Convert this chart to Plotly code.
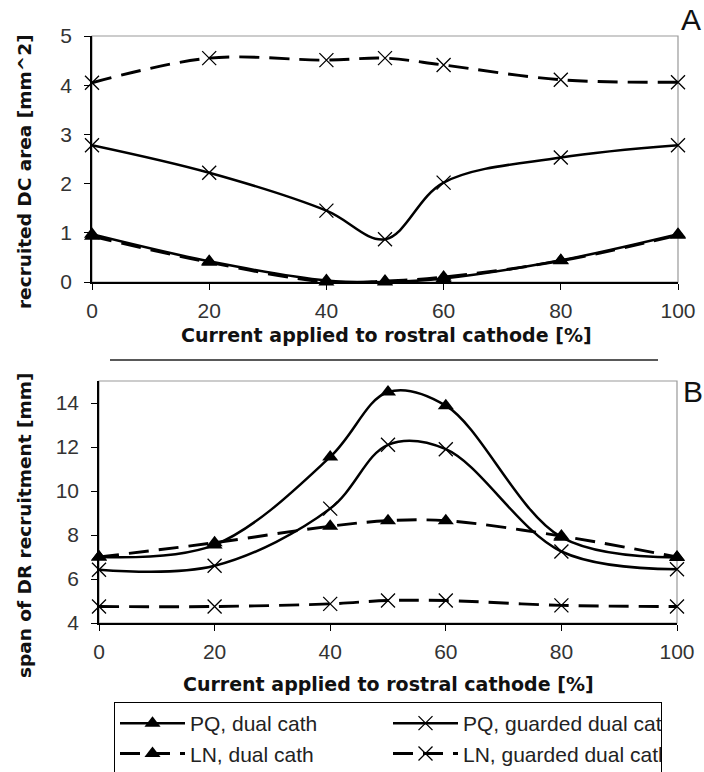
import plotly.graph_objects as go

# ---------------- data ----------------
x_pct = [0, 20, 40, 50, 60, 80, 100]
x_ticks = [0, 20, 40, 60, 80, 100]

# Panel A: recruited DC area [mm^2]
a_pq_dual = [0.97, 0.42, 0.03, 0.00, 0.07, 0.44, 0.97]
a_ln_dual = [0.93, 0.40, 0.00, 0.02, 0.10, 0.43, 0.95]
a_pq_guard = [2.78, 2.22, 1.45, 0.87, 2.02, 2.53, 2.78]
a_ln_guard = [4.05, 4.55, 4.51, 4.55, 4.41, 4.11, 4.06]

# Panel B: span of DR recruitment [mm]
b_pq_dual = [7.00, 7.55, 11.55, 14.50, 13.88, 7.90, 6.98]
b_ln_dual = [7.00, 7.65, 8.40, 8.65, 8.65, 7.95, 7.00]
b_pq_guard = [6.42, 6.60, 9.20, 12.10, 11.90, 7.25, 6.44]
b_ln_guard = [4.75, 4.75, 4.87, 5.02, 5.02, 4.80, 4.75]

names = ["PQ, dual cath", "PQ, guarded dual cath", "LN, dual cath", "LN, guarded dual cath"]
x_title = "Current applied to rostral cathode [%]"
ya_title = "recruited DC area [mm^2]"
yb_title = "span of DR recruitment [mm]"

W, H = 704, 772
TICKFONT = "Liberation Sans, Arial, sans-serif"
BOLDFONT = "DejaVu Sans, Verdana, sans-serif"

def px_x(p):
    return p / W

def px_y(p):
    return 1 - p / H

fig = go.Figure()

DASH = "20px,10px"
styles = [
    dict(dash="solid", symbol="triangle-up", msize=14, mline=0),
    dict(dash="solid", symbol="x-thin", msize=14, mline=1.3),
    dict(dash=DASH, symbol="triangle-up", msize=14, mline=0),
    dict(dash=DASH, symbol="x-thin", msize=14, mline=1.3),
]

for data, axis in [((a_pq_dual, a_pq_guard, a_ln_dual, a_ln_guard), ("x", "y")),
                   ((b_pq_dual, b_pq_guard, b_ln_dual, b_ln_guard), ("x2", "y2"))]:
    for i, (ys, st) in enumerate(zip(data, styles)):
        fig.add_trace(go.Scatter(
            x=x_pct, y=ys, name=names[i], mode="lines+markers",
            xaxis=axis[0], yaxis=axis[1],
            line=dict(color="black", width=2.9 if st["dash"] == DASH else 2.5, dash=st["dash"],
                      shape="spline", smoothing=1.0),
            marker=dict(symbol=st["symbol"], size=st["msize"], color="black",
                        line=dict(color="black", width=st["mline"])),
            cliponaxis=False,
            showlegend=(axis[0] == "x2"),
        ))

axis_common = dict(showgrid=False, zeroline=False, showline=True, linecolor="black", linewidth=1.5,
                   ticks="outside", ticklen=6, tickcolor="black", tickwidth=1.2,
                   tickfont=dict(family=TICKFONT, size=21, color="#333"))

title_font = dict(family=BOLDFONT, size=19, color="#111", weight="bold")
ytitle_font = dict(family=BOLDFONT, size=18.5, color="#111", weight="bold")

fig.update_layout(
    width=W, height=H, margin=dict(l=0, r=0, t=0, b=0, autoexpand=False),
    paper_bgcolor="white", plot_bgcolor="white",
    xaxis=dict(domain=[px_x(92), px_x(678)], anchor="y", range=[0, 100], tickvals=x_ticks,
               ticklabelstandoff=3, **axis_common),
    yaxis=dict(domain=[px_y(282), px_y(36)], anchor="x", range=[0, 5], tickvals=[0, 1, 2, 3, 4, 5],
               ticklabelstandoff=8, **axis_common),
    xaxis2=dict(domain=[px_x(99), px_x(677)], anchor="y2", range=[0, 100], tickvals=x_ticks,
                ticklabelstandoff=3, **axis_common),
    yaxis2=dict(domain=[px_y(623), px_y(381)], anchor="x2", range=[4, 15], tickvals=[4, 6, 8, 10, 12, 14],
                ticklabelstandoff=8, **axis_common),
    legend=dict(orientation="h", x=px_x(114), y=px_y(702), xanchor="left", yanchor="top",
                bgcolor="white", bordercolor="black", borderwidth=1,
                entrywidth=193, entrywidthmode="pixels", itemwidth=65,
                font=dict(family=TICKFONT, size=21, color="#222")),
    shapes=[
        # gray frames of plot areas
        dict(type="rect", xref="x domain", yref="y domain", x0=0, x1=1, y0=0, y1=1,
             line=dict(color="#999", width=1.2), layer="below"),
        dict(type="rect", xref="x2 domain", yref="y2 domain", x0=0, x1=1, y0=0, y1=1,
             line=dict(color="#999", width=1.2), layer="below"),
        # separator line
        dict(type="line", xref="paper", yref="paper", x0=px_x(110), x1=px_x(658),
             y0=px_y(360), y1=px_y(360), line=dict(color="#222", width=1.5)),
    ],
    annotations=[
        dict(text="A", xref="paper", yref="paper", x=px_x(691), y=px_y(20), xanchor="center",
             yanchor="middle", showarrow=False, font=dict(family="Liberation Sans, Arial", size=30, color="#111")),
        dict(text="B", xref="paper", yref="paper", x=px_x(693), y=px_y(391), xanchor="center",
             yanchor="middle", showarrow=False, font=dict(family="Liberation Sans, Arial", size=30, color="#111")),
        dict(text=x_title, xref="paper", yref="paper", x=px_x(386), y=px_y(335), xanchor="center",
             yanchor="middle", showarrow=False, font=title_font),
        dict(text=x_title, xref="paper", yref="paper", x=px_x(388), y=px_y(684), xanchor="center",
             yanchor="middle", showarrow=False, font=title_font),
        dict(text=ya_title, xref="paper", yref="paper", x=px_x(24), y=px_y(172), xanchor="center",
             yanchor="middle", textangle=-90, showarrow=False, font=ytitle_font),
        dict(text=yb_title, xref="paper", yref="paper", x=px_x(24), y=px_y(526), xanchor="center",
             yanchor="middle", textangle=-90, showarrow=False, font=ytitle_font),
    ],
)

fig.write_html("out.html")
